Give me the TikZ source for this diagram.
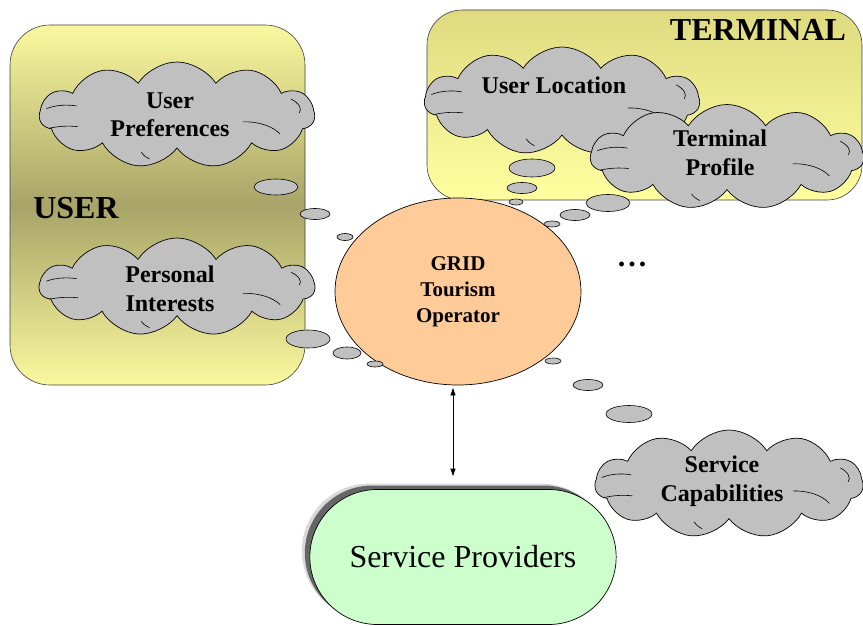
\documentclass[tikz,border=0pt]{standalone}
\usepackage{fontspec}
\setmainfont{Liberation Serif}
\usetikzlibrary{shapes.symbols,shapes.misc,shapes.geometric,shadows,arrows.meta}
\definecolor{userlight}{RGB}{250,248,158}
\definecolor{userdark}{RGB}{168,164,104}
\definecolor{termtop}{RGB}{222,218,128}
\definecolor{termbot}{RGB}{255,255,160}
\definecolor{cloudgray}{RGB}{192,192,192}
\definecolor{peach}{RGB}{255,204,153}
\definecolor{mint}{RGB}{204,255,204}
\begin{document}
\begin{tikzpicture}[x=1pt,y=-1pt,
  box/.style={draw=black!75, line width=0.6pt, inner sep=0pt},
  thought/.style={cloud, cloud puffs=11, cloud puff arc=115, cloud ignores aspect,
    draw=black, fill=cloudgray, line width=0.7pt, inner sep=0pt},
  crease/.style={draw=black, line width=0.6pt},
  cloudtext/.style={align=center, font=\fontsize{24}{28.5}\selectfont\bfseries, inner sep=0pt},
  bubble/.style={ellipse, draw=black, fill=cloudgray, line width=0.6pt, inner sep=0pt},
  title/.style={font=\fontsize{32}{36}\selectfont\bfseries, inner sep=0pt},
  >={Latex[length=8pt,width=5.5pt]}
]
\useasboundingbox (0,0) rectangle (863,626);

% actor boxes
\node[box, rounded corners=40pt, minimum width=295pt, minimum height=360pt,
  top color=userlight, bottom color=userlight, middle color=userdark] (userbox) at (157.5,205) {};
\node[title] (usertitle) at (76,208) {USER};
\node[box, rounded corners=35pt, minimum width=435pt, minimum height=190pt,
  top color=termtop, bottom color=termbot] (termbox) at (644.5,105) {};
\node[title] (termtitle) at (758,30) {TERMINAL};

% operator
\node[ellipse, draw=black, line width=0.7pt, fill=peach, minimum width=246pt, minimum height=187pt,
  align=center, font=\fontsize{21}{26}\selectfont\bfseries] (grid) at (458,291.5) {GRID\\Tourism\\Operator};

% thought clouds, each followed by its inner creases (drawn in units of the half sizes)
\foreach \c/\cx/\cy/\w/\h in {upref/177/115/275/106, pint/177/287/275/98,
  uloc/562/101/275/108, tprof/727/157/273/105, scap/729/484/268/108} {
  \node[thought, minimum width=\w pt, minimum height=\h pt] (\c) at (\cx,\cy) {};
  \begin{scope}[shift={(\c.center)}, x=\w/2*1pt, y=-\h/2*1pt]
    \draw[crease] (-0.95,-0.12) .. controls (-0.88,-0.19) and (-0.8,-0.2) .. (-0.73,-0.17);
    \draw[crease] (-0.93,0.25) .. controls (-0.86,0.21) and (-0.79,0.2) .. (-0.72,0.22);
    \draw[crease] (0.48,0.13) .. controls (0.6,0.12) and (0.7,0.22) .. (0.75,0.36);
    \draw[crease] (0.83,-0.3) .. controls (0.89,-0.22) and (0.91,-0.12) .. (0.89,-0.04);
    \draw[crease] (-0.26,0.7) .. controls (-0.24,0.77) .. (-0.2,0.83);
  \end{scope}
}
\node[cloudtext] (upreftext) at (170,115) {User\\Preferences};
\node[cloudtext] (pinttext) at (170,289) {Personal\\Interests};
\node[cloudtext] (uloctext) at (554,85) {User Location};
\node[cloudtext] (tproftext) at (720,153) {Terminal\\Profile};
\node[cloudtext] (scaptext) at (722,481) {Service\\Capabilities};

% thought bubbles
\foreach \n/\x/\y/\w/\h in {b1/276/187/44/16, b2/315/214/30/11, b3/345/237/16/7,
  b4/308/339/44/18, b5/347/353/28/12, b6/375/364/16/6,
  b7/532/168/46/18, b8/522/188/30/11, b9/516/202/14/6,
  b10/608/203/44/17, b11/575/215/30/11, b12/552/224/16/6,
  b13/553/361/16/6, b14/588/385/30/11, b15/629/414/46/17}
  \node[bubble, minimum width=\w pt, minimum height=\h pt] (\n) at (\x,\y) {};

\node[font=\fontsize{30}{34}\selectfont\bfseries, inner sep=0pt] (more) at (632,264) {.\hspace{3pt}.\hspace{3pt}.};

% service providers
\node[rounded rectangle, draw=black, line width=0.7pt, fill=mint,
  minimum width=313pt, minimum height=135pt, font=\fontsize{32}{36}\selectfont,
  drop shadow={shadow xshift=-8pt, shadow yshift=6pt, fill=black!15, opacity=1},
  drop shadow={shadow xshift=-5pt, shadow yshift=4pt, fill=black!60, opacity=1}] (sp) at (463,557) {Service Providers};

% link
\draw[line width=0.7pt, <->] ([xshift=-5pt,yshift=-2pt]grid.south) -- ([xshift=-10pt,yshift=12.5pt]sp.north);
\end{tikzpicture}
\end{document}
